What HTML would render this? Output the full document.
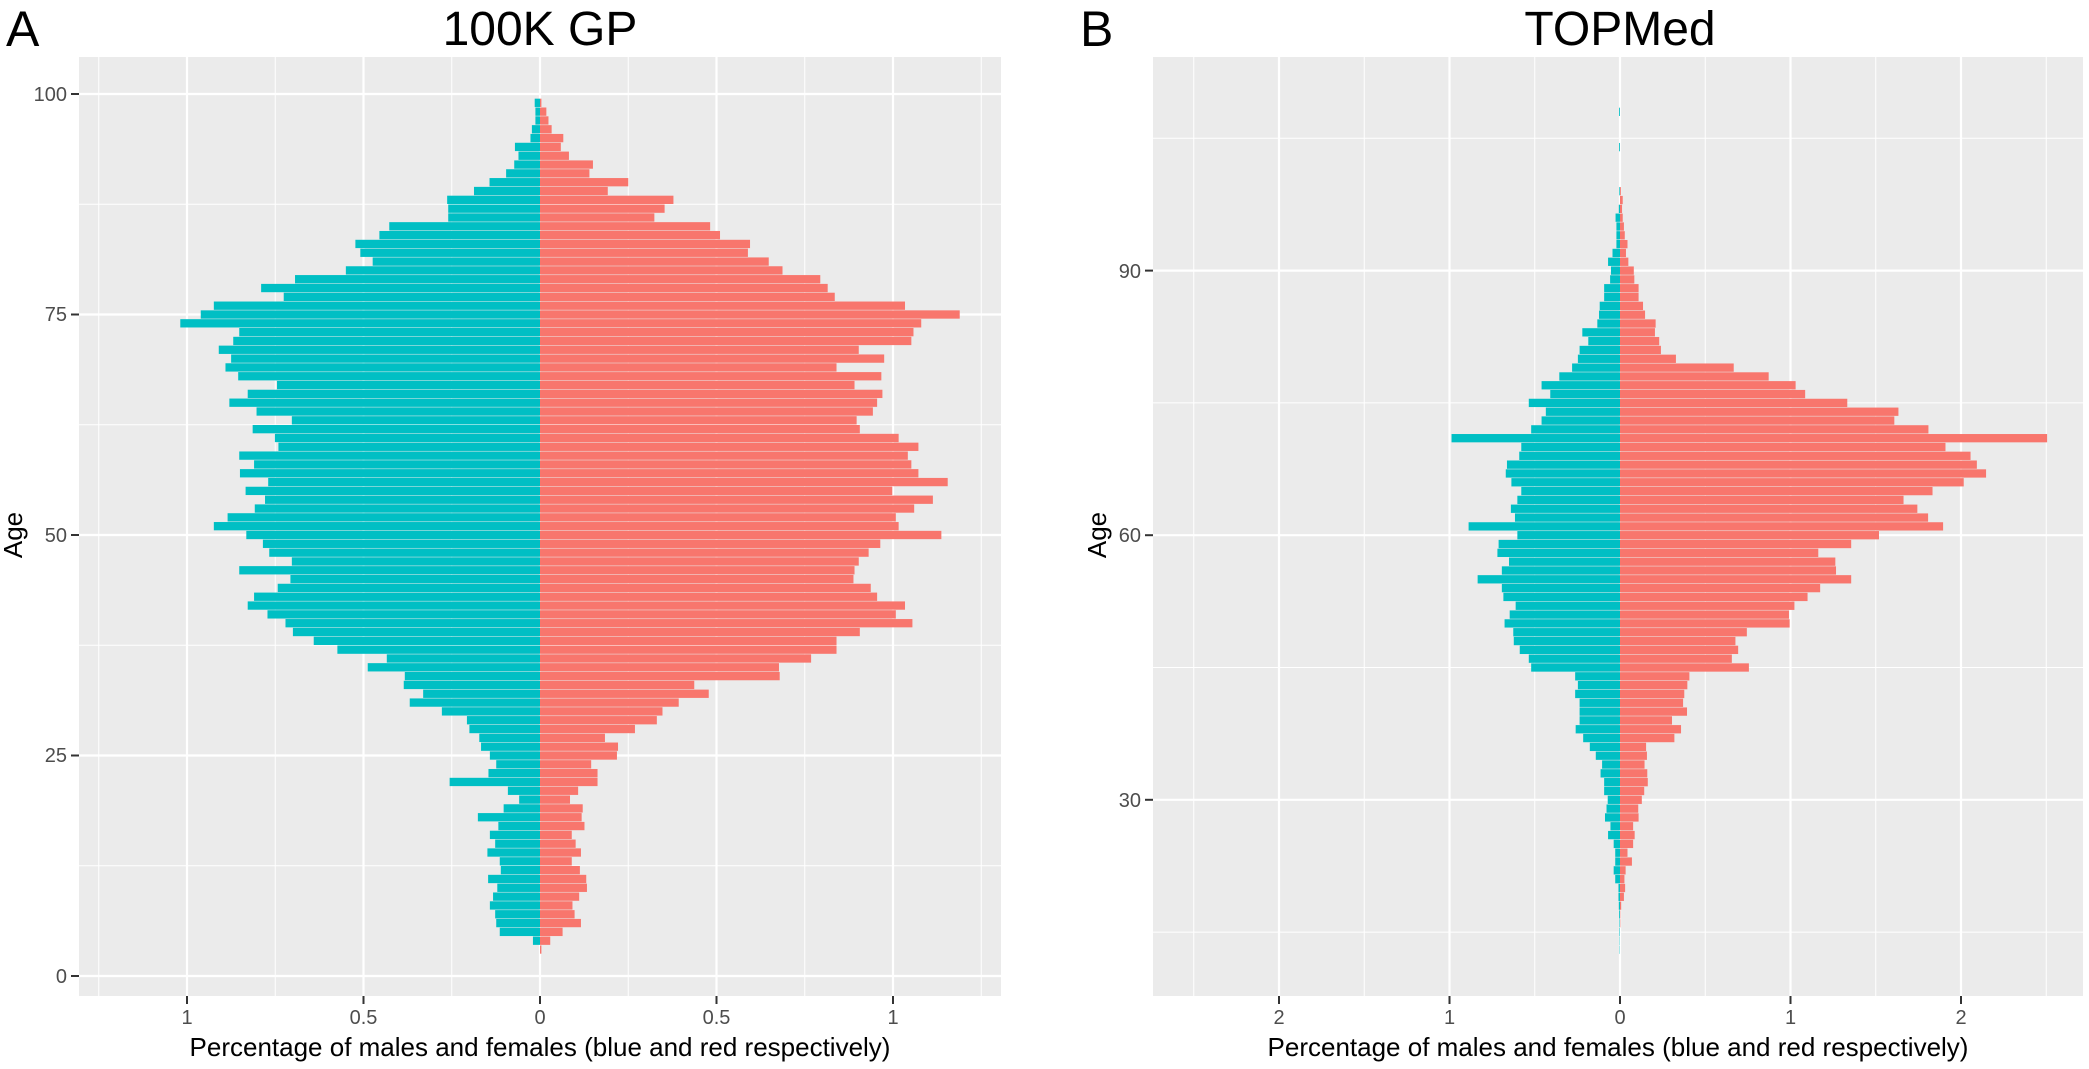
<!DOCTYPE html>
<html><head><meta charset="utf-8"><style>
html,body{margin:0;padding:0;background:#fff;}
svg{display:block;}
text{font-family:"Liberation Sans",Arial,sans-serif;}
</style></head><body>
<svg id="s" width="2089" height="1069" viewBox="0 0 2089 1069" xmlns="http://www.w3.org/2000/svg">
<rect x="0" y="0" width="2089" height="1069" fill="#fff"/>
<!-- Panel A -->
<rect x="79" y="57" width="922" height="939" fill="#EBEBEB"/>
<g stroke="#fff" stroke-width="1">
<line x1="98.75" y1="57" x2="98.75" y2="996"/><line x1="275.25" y1="57" x2="275.25" y2="996"/><line x1="451.75" y1="57" x2="451.75" y2="996"/><line x1="628.25" y1="57" x2="628.25" y2="996"/><line x1="804.75" y1="57" x2="804.75" y2="996"/><line x1="981.25" y1="57" x2="981.25" y2="996"/>
<line x1="79" y1="865.75" x2="1001" y2="865.75"/><line x1="79" y1="645.25" x2="1001" y2="645.25"/><line x1="79" y1="424.75" x2="1001" y2="424.75"/><line x1="79" y1="204.25" x2="1001" y2="204.25"/>
</g>
<g stroke="#fff" stroke-width="2.2">
<line x1="187" y1="57" x2="187" y2="996"/><line x1="363.5" y1="57" x2="363.5" y2="996"/><line x1="540" y1="57" x2="540" y2="996"/><line x1="716.5" y1="57" x2="716.5" y2="996"/><line x1="893" y1="57" x2="893" y2="996"/>
<line x1="79" y1="976" x2="1001" y2="976"/><line x1="79" y1="755.5" x2="1001" y2="755.5"/><line x1="79" y1="535" x2="1001" y2="535"/><line x1="79" y1="314.5" x2="1001" y2="314.5"/><line x1="79" y1="94" x2="1001" y2="94"/>
</g>
<g id="barsA"></g>
<!-- Panel B -->
<rect x="1153" y="57" width="930" height="939" fill="#EBEBEB"/>
<g stroke="#fff" stroke-width="1">
<line x1="1193.75" y1="57" x2="1193.75" y2="996"/><line x1="1364.25" y1="57" x2="1364.25" y2="996"/><line x1="1534.75" y1="57" x2="1534.75" y2="996"/><line x1="1705.25" y1="57" x2="1705.25" y2="996"/><line x1="1875.75" y1="57" x2="1875.75" y2="996"/><line x1="2046.25" y1="57" x2="2046.25" y2="996"/>
<line x1="1153" y1="932.1" x2="2083" y2="932.1"/><line x1="1153" y1="667.5" x2="2083" y2="667.5"/><line x1="1153" y1="402.9" x2="2083" y2="402.9"/><line x1="1153" y1="138.3" x2="2083" y2="138.3"/>
</g>
<g stroke="#fff" stroke-width="2.2">
<line x1="1279" y1="57" x2="1279" y2="996"/><line x1="1449.5" y1="57" x2="1449.5" y2="996"/><line x1="1620" y1="57" x2="1620" y2="996"/><line x1="1790.5" y1="57" x2="1790.5" y2="996"/><line x1="1961" y1="57" x2="1961" y2="996"/>
<line x1="1153" y1="799.8" x2="2083" y2="799.8"/><line x1="1153" y1="535.2" x2="2083" y2="535.2"/><line x1="1153" y1="270.6" x2="2083" y2="270.6"/>
</g>
<g id="barsB"></g>
<!-- ticks -->
<g stroke="#333" stroke-width="2">
<line x1="71" y1="976" x2="79" y2="976"/><line x1="71" y1="755.5" x2="79" y2="755.5"/><line x1="71" y1="535" x2="79" y2="535"/><line x1="71" y1="314.5" x2="79" y2="314.5"/><line x1="71" y1="94" x2="79" y2="94"/>
<line x1="187" y1="996" x2="187" y2="1004"/><line x1="363.5" y1="996" x2="363.5" y2="1004"/><line x1="540" y1="996" x2="540" y2="1004"/><line x1="716.5" y1="996" x2="716.5" y2="1004"/><line x1="893" y1="996" x2="893" y2="1004"/>
<line x1="1145" y1="799.8" x2="1153" y2="799.8"/><line x1="1145" y1="535.2" x2="1153" y2="535.2"/><line x1="1145" y1="270.6" x2="1153" y2="270.6"/>
<line x1="1279" y1="996" x2="1279" y2="1004"/><line x1="1449.5" y1="996" x2="1449.5" y2="1004"/><line x1="1620" y1="996" x2="1620" y2="1004"/><line x1="1790.5" y1="996" x2="1790.5" y2="1004"/><line x1="1961" y1="996" x2="1961" y2="1004"/>
</g>
<g fill="#4D4D4D" font-size="20" text-anchor="end">
<text x="67" y="983">0</text><text x="67" y="762">25</text><text x="67" y="542">50</text><text x="67" y="321">75</text><text x="67" y="101">100</text>
<text x="1141" y="807">30</text><text x="1141" y="542">60</text><text x="1141" y="278">90</text>
</g>
<g fill="#4D4D4D" font-size="20" text-anchor="middle">
<text x="187" y="1024">1</text><text x="363.5" y="1024">0.5</text><text x="540" y="1024">0</text><text x="716.5" y="1024">0.5</text><text x="893" y="1024">1</text>
<text x="1279" y="1024">2</text><text x="1449.5" y="1024">1</text><text x="1620" y="1024">0</text><text x="1790.5" y="1024">1</text><text x="1961" y="1024">2</text>
</g>
<g fill="#000" font-size="26" text-anchor="middle">
<text x="540" y="1056">Percentage of males and females (blue and red respectively)</text>
<text x="1618" y="1056">Percentage of males and females (blue and red respectively)</text>
<text transform="translate(22,535) rotate(-90)">Age</text>
<text transform="translate(1106,535) rotate(-90)">Age</text>
</g>
<g fill="#000" text-anchor="middle" font-size="48">
<text x="540" y="45">100K GP</text>
<text x="1620" y="45">TOPMed</text>
</g>
<g fill="#000" font-size="50">
<text x="6" y="46">A</text>
<text x="1080" y="46">B</text>
</g>
</svg>
<script>
(function(){
var NS="http://www.w3.org/2000/svg";
function bars(gid,startAge,m,f,zero,scale,yf){
  var g=document.getElementById(gid);
  for(var i=0;i<m.length;i++){
    var a=startAge+i, yc=yf(a), h=8.3;
    if(m[i]>0){var r=document.createElementNS(NS,"rect");var w=m[i]*scale;
      r.setAttribute("x",zero-w);r.setAttribute("y",yc-h/2);r.setAttribute("width",w);r.setAttribute("height",h);r.setAttribute("fill","#00BFC4");g.appendChild(r);}
    if(f[i]>0){var r2=document.createElementNS(NS,"rect");var w2=f[i]*scale;
      r2.setAttribute("x",zero);r2.setAttribute("y",yc-h/2);r2.setAttribute("width",w2);r2.setAttribute("height",h);r2.setAttribute("fill","#F8766D");g.appendChild(r2);}
  }
}
var Am=[0,.020,.114,.124,.127,.142,.133,.121,.147,.111,.114,.149,.127,.142,.118,.176,.103,.059,.091,.256,.146,.124,.142,.167,.172,.200,.207,.278,.369,.331,.386,.383,.488,.434,.574,.641,.700,.721,.772,.828,.810,.743,.707,.852,.703,.767,.785,.832,.924,.885,.808,.779,.834,.770,.850,.810,.852,.741,.751,.814,.703,.803,.880,.828,.745,.855,.891,.875,.910,.869,.852,1.019,.961,.924,.726,.790,.694,.550,.474,.509,.523,.455,.427,.260,.260,.263,.187,.143,.096,.073,.061,.071,.027,.023,.013,.013,.015];
var Af=[.004,.029,.064,.116,.098,.092,.111,.133,.131,.113,.090,.116,.101,.090,.126,.118,.121,.085,.108,.163,.163,.145,.218,.221,.184,.269,.331,.347,.393,.478,.437,.679,.677,.768,.840,.840,.906,1.055,1.008,1.034,.955,.937,.888,.891,.903,.931,.964,1.137,1.016,1.008,1.060,1.113,.998,1.155,1.072,1.052,1.042,1.072,1.016,.906,.897,.943,.955,.970,.891,.967,.840,.975,.903,1.052,1.058,1.080,1.189,1.034,.835,.815,.794,.687,.648,.589,.595,.510,.482,.324,.353,.378,.192,.250,.140,.150,.082,.059,.066,.033,.024,.018,.004];
bars("barsA",3,Am,Af,540,353,function(a){return 976-8.82*a;});
var Bm=[.002,.002,.003,.003,.005,.007,.009,.009,.028,.037,.028,.028,.037,.070,.056,.088,.079,.072,.093,.093,.114,.105,.142,.177,.216,.260,.237,.237,.237,.263,.247,.263,.521,.535,.588,.623,.626,.677,.647,.612,.684,.693,.835,.693,.651,.719,.712,.602,.888,.616,.640,.602,.579,.637,.670,.663,.591,.579,.988,.521,.460,.435,.535,.409,.460,.356,.281,.247,.237,.186,.221,.133,.123,.119,.093,.093,.058,.053,.070,.044,.021,.021,.021,.026,.007,0,.004,0,0,0,0,.005,0,0,0,.005];
var Bf=[0,0,0,.002,.002,.007,.023,.030,.026,.033,.070,.044,.077,.086,.077,.109,.107,.128,.142,.163,.160,.144,.158,.153,.319,.358,.305,.393,.370,.377,.395,.407,.756,.656,.693,.677,.744,.995,.991,1.023,1.100,1.174,1.356,1.267,1.263,1.163,1.356,1.519,1.895,1.807,1.744,1.663,1.833,2.016,2.147,2.093,2.056,1.909,2.505,1.809,1.609,1.633,1.333,1.086,1.030,.872,.667,.328,.240,.230,.205,.209,.147,.135,.109,.109,.084,.081,.049,.035,.044,.028,.023,.016,.012,.016,.005,0,0,0,0,0,0,0,0,0];
bars("barsB",13,Bm,Bf,1620,170.5,function(a){return 535.2-(a-60)*8.82;});
})();
</script>
</body></html>
